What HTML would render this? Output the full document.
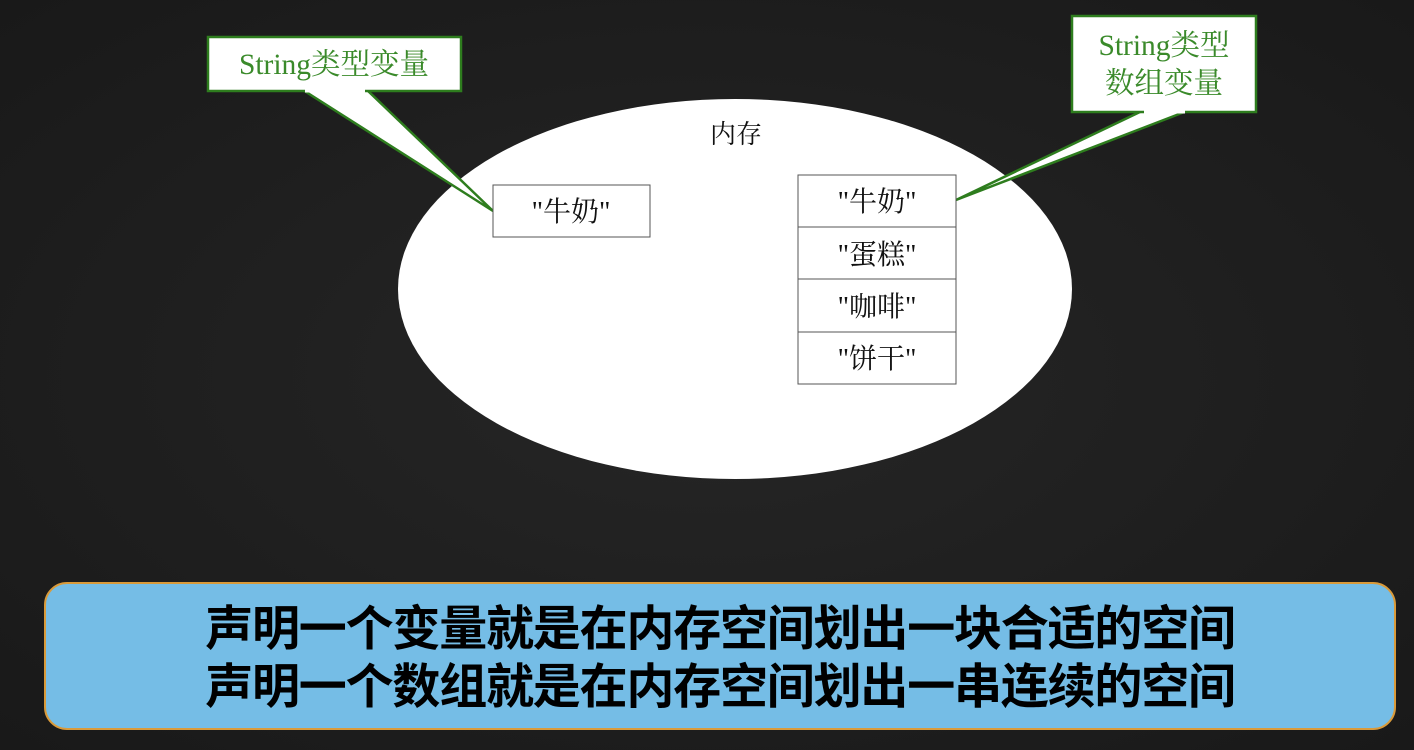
<!DOCTYPE html>
<html><head><meta charset="utf-8"><style>
html,body{margin:0;padding:0;width:1414px;height:750px;overflow:hidden;background:#1f1f1f;}
</style></head><body>
<svg width="1414" height="750" xmlns="http://www.w3.org/2000/svg">
<defs>
<radialGradient id="bg" cx="50%" cy="50%" r="75%">
<stop offset="0" stop-color="#262626"/><stop offset="1" stop-color="#181818"/>
</radialGradient>
</defs>
<rect width="1414" height="750" fill="url(#bg)"/>
<ellipse cx="735" cy="289" rx="337" ry="190" fill="#fff"/>
<text x="736" y="143" font-family="Liberation Serif,'Noto Serif CJK SC',serif" font-size="26" text-anchor="middle" fill="#111">内存</text>
<!-- left callout -->
<polygon points="303,90 367,90 493,211" fill="#fff" stroke="#2e7d1e" stroke-width="2.5" stroke-linejoin="miter"/>
<rect x="208" y="37" width="253" height="54" fill="#fff" stroke="#2e7d1e" stroke-width="2.5"/>
<rect x="305" y="88" width="60" height="4.5" fill="#fff"/>
<text x="334" y="74" font-family="Liberation Serif,'Noto Serif CJK SC',serif" font-size="29.5" text-anchor="middle" fill="#3a8a2a">String类型变量</text>
<!-- right callout -->
<polygon points="1142,111 1187,111 956,200" fill="#fff" stroke="#2e7d1e" stroke-width="2.5"/>
<rect x="1072" y="16" width="184" height="96" fill="#fff" stroke="#2e7d1e" stroke-width="2.5"/>
<rect x="1144" y="109" width="41" height="4.5" fill="#fff"/>
<text x="1164" y="55" font-family="Liberation Serif,'Noto Serif CJK SC',serif" font-size="29.5" text-anchor="middle" fill="#3a8a2a">String类型</text>
<text x="1164" y="93" font-family="Liberation Serif,'Noto Serif CJK SC',serif" font-size="29.5" text-anchor="middle" fill="#3a8a2a">数组变量</text>
<!-- boxes -->
<g font-family="Liberation Serif,'Noto Serif CJK SC',serif" font-size="28" text-anchor="middle" fill="#111">
<rect x="493" y="185" width="157" height="52" fill="#fff" stroke="#555" stroke-width="1"/>
<text x="571" y="221">"牛奶"</text>
<rect x="798" y="175" width="158" height="52" fill="#fff" stroke="#555" stroke-width="1"/>
<rect x="798" y="227" width="158" height="52" fill="#fff" stroke="#555" stroke-width="1"/>
<rect x="798" y="279" width="158" height="53" fill="#fff" stroke="#555" stroke-width="1"/>
<rect x="798" y="332" width="158" height="52" fill="#fff" stroke="#555" stroke-width="1"/>
<text x="877" y="211">"牛奶"</text>
<text x="877" y="264">"蛋糕"</text>
<text x="877" y="316">"咖啡"</text>
<text x="877" y="368">"饼干"</text>
</g>
<!-- bottom box -->
<rect x="45" y="583" width="1350" height="146" rx="22" fill="#75bde6" stroke="#d99a3a" stroke-width="2"/>
<g font-family="Liberation Sans,'Noto Sans CJK SC',sans-serif" font-size="48" font-weight="bold" text-anchor="middle" fill="#000">
<text x="720" y="645" letter-spacing="-1.2">声明一个变量就是在内存空间划出一块合适的空间</text>
<text x="720" y="703" letter-spacing="-1.2">声明一个数组就是在内存空间划出一串连续的空间</text>
</g>
</svg>
</body></html>
